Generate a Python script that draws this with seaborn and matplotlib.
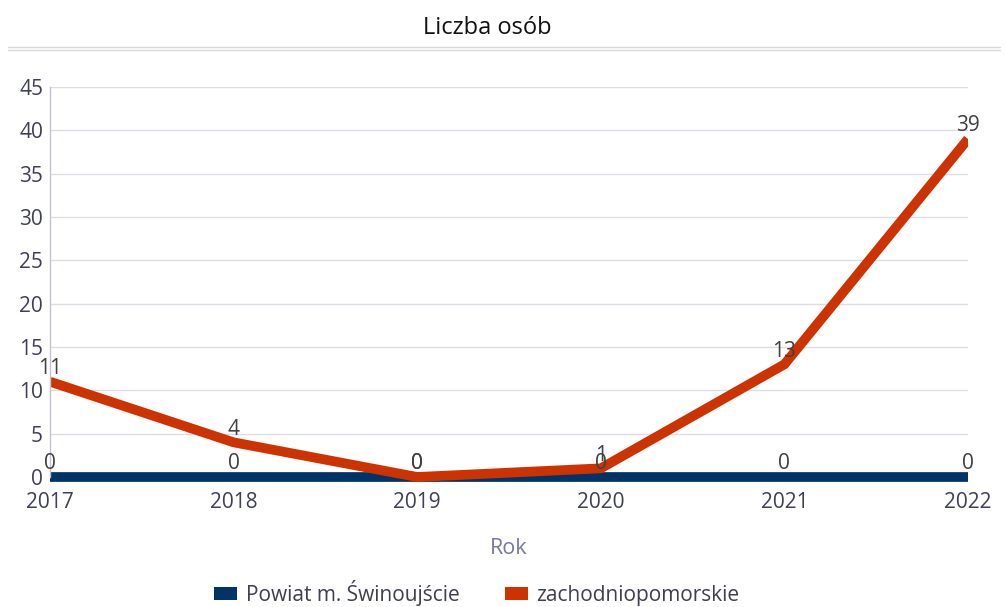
import matplotlib
matplotlib.use("Agg")
import matplotlib.pyplot as plt
from matplotlib.patches import Rectangle, Patch
from matplotlib.lines import Line2D
import seaborn as sns
import pandas as pd

years = [2017, 2018, 2019, 2020, 2021, 2022]
swinoujscie = [0, 0, 0, 0, 0, 0]
zachodniopomorskie = [11, 4, 0, 1, 13, 39]
series_names = ["Powiat m. Świnoujście", "zachodniopomorskie"]
colors = ["#003366", "#CC3300"]
y_ticks = [0, 5, 10, 15, 20, 25, 30, 35, 40, 45]

df = pd.DataFrame({
    "Rok": years * 2,
    "value": swinoujscie + zachodniopomorskie,
    "series": [series_names[0]] * len(years) + [series_names[1]] * len(years),
})

sns.set_theme(style="white")
plt.rcParams["font.family"] = ["Open Sans", "DejaVu Sans"]

fig = plt.figure(figsize=(10.05, 6.07), dpi=100)
ax = fig.add_axes([50 / 1005, 130 / 607, 918 / 1005, 390 / 607])

sns.lineplot(data=df, x="Rok", y="value", hue="series", palette=colors,
             linewidth=7, ax=ax, legend=False, sort=False)

# clip lines only horizontally so the zero line shows in full
clip = Rectangle((0, -0.2), 1, 1.4, transform=ax.transAxes, visible=False)
ax.add_patch(clip)
for ln in ax.lines:
    ln.set_solid_capstyle("butt")
    ln.set_solid_joinstyle("miter")
    ln.set_clip_path(clip)

ax.set_xlim(2017, 2022)
ax.set_ylim(0, 45)
ax.set_yticks(y_ticks)
ax.set_xticks(years)
ax.grid(axis="y", color="#dddde6", linewidth=1)
ax.set_axisbelow(True)
for s in ["top", "right", "bottom"]:
    ax.spines[s].set_visible(False)
ax.spines["left"].set_color("#c0c0d8")
ax.spines["left"].set_linewidth(1)
ax.tick_params(axis="both", length=0, labelsize=15, colors="#3f3f58", pad=5)
ax.tick_params(axis="x", pad=11)
ax.set_ylabel("")
ax.set_xlabel("Rok", fontsize=15.5, color="#7878a0", labelpad=18)

# value labels above each point
for vals in [swinoujscie, zachodniopomorskie]:
    for x, v in zip(years, vals):
        ax.annotate(str(v), (x, v), xytext=(0, 2), textcoords="offset points",
                    ha="center", va="bottom", fontsize=15, color="#404040",
                    annotation_clip=False)

fig.text(487 / 1005, 1 - 28 / 607, "Liczba osób", ha="center", va="center",
         fontsize=17, color="#111111")
for yy in [46.5, 49.5]:
    fig.add_artist(Line2D([8 / 1005, 1000 / 1005], [1 - yy / 607] * 2,
                          color="#d8d8d8", linewidth=1))

handles = [Patch(facecolor=c, edgecolor="none") for c in colors]
fig.legend(handles, series_names, loc="center", bbox_to_anchor=(477 / 1005, 1 - 593 / 607),
           ncol=2, frameon=False, fontsize=15, labelcolor="#3f3f4f",
           handletextpad=0.4, columnspacing=2.2, handlelength=1.1, handleheight=0.55)

fig.savefig("out.png", dpi=100)
